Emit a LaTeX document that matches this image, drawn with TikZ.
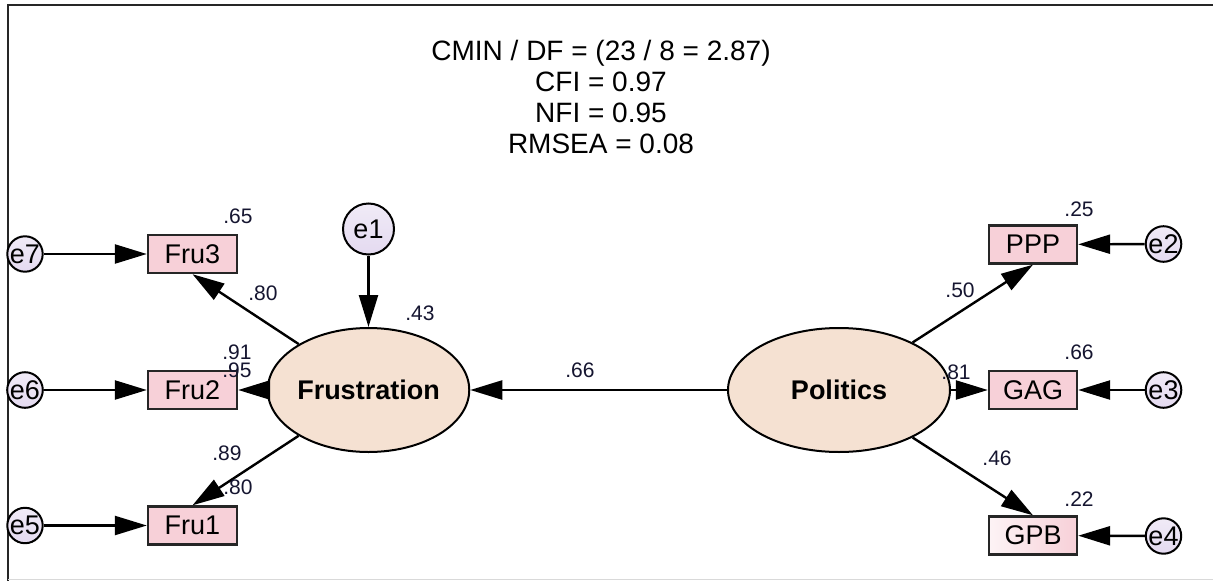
\documentclass[tikz,border=0pt]{standalone}
\usepackage{fontspec}
\setmainfont{Liberation Sans}
\usetikzlibrary{arrows.meta,shapes.geometric}
\definecolor{boxpink}{HTML}{F7D0D8}
\definecolor{latpeach}{HTML}{F5E1D2}
\definecolor{errlav}{HTML}{E4DAF0}
\definecolor{numcol}{HTML}{151530}
\tikzset{
  obsbox/.style={draw=black!85, line width=2.4pt, fill=boxpink, minimum width=89pt, minimum height=38pt, inner sep=0pt, font=\fontsize{27}{27}\selectfont},
  latent/.style={ellipse, draw=black, line width=2pt, fill=latpeach, minimum width=198pt, minimum height=124pt, inner sep=0pt, font=\fontsize{27}{27}\selectfont\bfseries},
  errc/.style={circle, draw=black, line width=2pt, top color=errlav!55, bottom color=errlav, inner sep=0pt, font=\fontsize{27}{27}\selectfont},
  coef/.style={inner sep=0pt, text=numcol, font=\fontsize{21}{21}\selectfont},
  path/.style={line width=2.4pt, -{Triangle[length=32pt,width=19pt]}},
}
\begin{document}
\begin{tikzpicture}[x=1pt,y=-1pt]
\useasboundingbox (0,0) rectangle (1213,581);
\fill[white] (0,0) rectangle (1213,581);
% frame
\draw[line width=2.2pt, black!85] (8,581) -- (8,5) -- (1213,5);
\draw[line width=1pt, black!15] (8,579.5) -- (1213,579.5);
% fit indices
\node[align=center, inner sep=0pt, font=\fontsize{28}{31}\selectfont] (fit) at (601,97)
  {CMIN / DF = (23 / 8 = 2.87)\\CFI = 0.97\\NFI = 0.95\\RMSEA = 0.08};
% latent variables
\node[latent] (Frus) at (368.5,390) {Frustration};
\node[latent, minimum width=222pt] (Pol) at (839,390) {Politics};
% observed
\node[obsbox] (Fru3) at (192.5,254) {Fru3};
\node[obsbox] (Fru2) at (192.5,390) {Fru2};
\node[obsbox] (Fru1) at (192.5,525.5) {Fru1};
\node[obsbox, minimum width=88pt] (PPP) at (1033,244.5) {PPP};
\node[obsbox, minimum width=88pt] (GAG) at (1033,390) {GAG};
\node[obsbox, minimum width=88pt, fill=none, left color=boxpink!25, right color=boxpink] (GPB) at (1033,535.5) {GPB};
% errors
\node[errc, minimum size=32pt] (e7) at (25,254) {e7};
\node[errc, minimum size=32pt] (e6) at (25,390) {e6};
\node[errc, minimum size=32pt] (e5) at (25,525.5) {e5};
\node[errc, minimum size=51pt] (e1) at (368.5,229) {e1};
\node[errc, minimum size=33pt] (e2) at (1163.5,244) {e2};
\node[errc, minimum size=33pt] (e3) at (1163.5,390) {e3};
\node[errc, minimum size=33pt] (e4) at (1163.5,536) {e4};
% paths
\draw[path] (e7) -- (Fru3);
\draw[path] (e6) -- (Fru2);
\draw[path] (e5) -- (Fru1);
\draw[path] (e1) -- (Frus);
\draw[path] (Frus) -- (Fru3.south);
\draw[path] (Frus) -- (Fru2);
\draw[path] (Frus) -- (Fru1.north);
\draw[path] (Pol) -- (Frus);
\draw[path] (Pol) -- (PPP.south);
\draw[path] (Pol) -- (GAG);
\draw[path] (Pol) -- (GPB.north);
\draw[path] (e2) -- (PPP);
\draw[path] (e3) -- (GAG);
\draw[path] (e4) -- (GPB);
% coefficients
\node[coef] (c65) at (238,216) {.65};
\node[coef] (c80a) at (263,293) {.80};
\node[coef] (c91) at (237,352) {.91};
\node[coef] (c95) at (237,370) {.95};
\node[coef] (c89) at (227,453) {.89};
\node[coef] (c80b) at (238,487) {.80};
\node[coef] (c43) at (420,313) {.43};
\node[coef] (c66a) at (580,370) {.66};
\node[coef] (c25) at (1079,209) {.25};
\node[coef] (c50) at (960,290) {.50};
\node[coef] (c66b) at (1079,352) {.66};
\node[coef] (c81) at (956,372) {.81};
\node[coef] (c46) at (997,458) {.46};
\node[coef] (c22) at (1079,499) {.22};
\end{tikzpicture}
\end{document}
